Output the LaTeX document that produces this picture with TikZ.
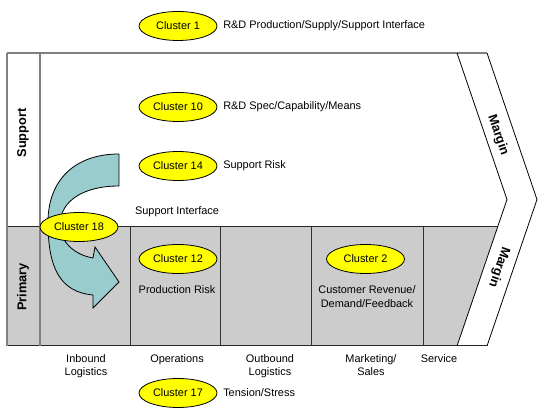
\documentclass[tikz,border=0pt]{standalone}
\usepackage{fontspec}
\setmainfont{Liberation Sans}
\usetikzlibrary{shapes.geometric}
\definecolor{clusteryellow}{RGB}{255,255,0}
\definecolor{primarygrey}{RGB}{204,204,204}
\definecolor{arrowteal}{RGB}{153,204,204}
\definecolor{framegrey}{RGB}{128,128,128}
\tikzset{
	cluster/.style={ellipse, draw=black, line width=0.6pt, fill=clusteryellow, minimum width=58.5pt, minimum height=21.75pt, inner sep=0pt, font=\fontsize{8.2}{10}\selectfont},
	note/.style={inner sep=0pt, align=center, font=\fontsize{8.2}{10}\selectfont},
	bandlabel/.style={inner sep=0pt, font=\bfseries\fontsize{9.6}{11}\selectfont},
}

\begin{document}
\begin{tikzpicture}[x=0.75pt, y=-0.75pt]
			%%%%% START %%%%%
			\useasboundingbox (0, 0) rectangle (539, 416);
			
			\fill[white] (7, 53) -- (457, 53) -- (507, 199.5) -- (497.6, 227) -- (7, 227) -- cycle;
			\fill[primarygrey] (7, 227) -- (497.6, 227) -- (457, 346) -- (7, 346) -- cycle;
			
			\draw[line width=0.75pt, color=black!85] (7, 227) -- (497.6, 227);
			\draw[line width=0.75pt, color=black!85] (7, 346) -- (487, 346);
			\foreach \x in {130, 220, 311, 423}
				\draw[line width=0.75pt, color=black!80] (\x, 227) -- (\x, 346);
			
			\draw[line width=1.5pt, color=framegrey] (7, 53) -- (487, 53);
			\draw[line width=1.5pt, color=framegrey] (7, 53) -- (7, 346);
			\draw[line width=1.5pt, color=framegrey] (40, 53) -- (40, 346);
			
			\draw[line width=0.6pt] (457, 53) -- (507, 199.5) -- (457, 346);
			\draw[line width=0.6pt] (487, 53) -- (537, 199.5) -- (487, 346);
			
			\node[bandlabel, rotate=90] (support) at (23, 133) {Support};
			\node[bandlabel, rotate=90] (primary) at (23, 287) {Primary};
			\node[bandlabel, rotate=-71.15] (margintop) at (498, 135) {Margin};
			\node[bandlabel, rotate=-108.85] (marginbottom) at (499, 267) {Margin};
			
			\draw[fill=arrowteal, line width=0.6pt] (119, 154) .. controls (75, 154) and (48, 180) .. (48, 222) .. controls (48, 268) and (60, 292) .. (93, 295) -- (93, 308) -- (119, 282) -- (95, 247) -- (93, 258) .. controls (75, 255) and (60, 242) .. (60, 225) .. controls (60, 200) and (85, 186) .. (119, 186) -- cycle;
			
			\node[cluster] (cluster1) at (178, 26) {Cluster 1};
			\node[note, anchor=west] (interface) at (223, 26) {R\&D Production/Supply/Support Interface};
			
			\node[cluster] (cluster10) at (178, 107) {Cluster 10};
			\node[note, anchor=west] (spec) at (223, 107) {R\&D Spec/Capability/Means};
			
			\node[cluster] (cluster14) at (178, 166) {Cluster 14};
			\node[note, anchor=west] (supportrisk) at (223, 166) {Support Risk};
			
			\node[note] (supportinterface) at (177, 212) {Support Interface};
			\node[cluster] (cluster18) at (79, 227) {Cluster 18};
			
			\node[cluster] (cluster12) at (178, 259) {Cluster 12};
			\node[note] (productionrisk) at (177, 290) {Production Risk};
			
			\node[cluster] (cluster2) at (365.5, 259) {Cluster 2};
			\node[note] (revenue) at (367, 296.5) {Customer Revenue/\\Demand/Feedback};
			
			\node[note, anchor=north] (inbound) at (86, 354) {Inbound\\Logistics};
			\node[note, anchor=north] (operations) at (177, 354) {Operations};
			\node[note, anchor=north] (outbound) at (270, 354) {Outbound\\Logistics};
			\node[note, anchor=north] (marketing) at (371, 354) {Marketing/\\Sales};
			\node[note, anchor=north] (service) at (439, 354) {Service};
			
			\node[cluster] (cluster17) at (178, 393) {Cluster 17};
			\node[note, anchor=west] (tension) at (223, 393) {Tension/Stress};
			
			%%%%% END %%%%%
		\end{tikzpicture}
\end{document}
